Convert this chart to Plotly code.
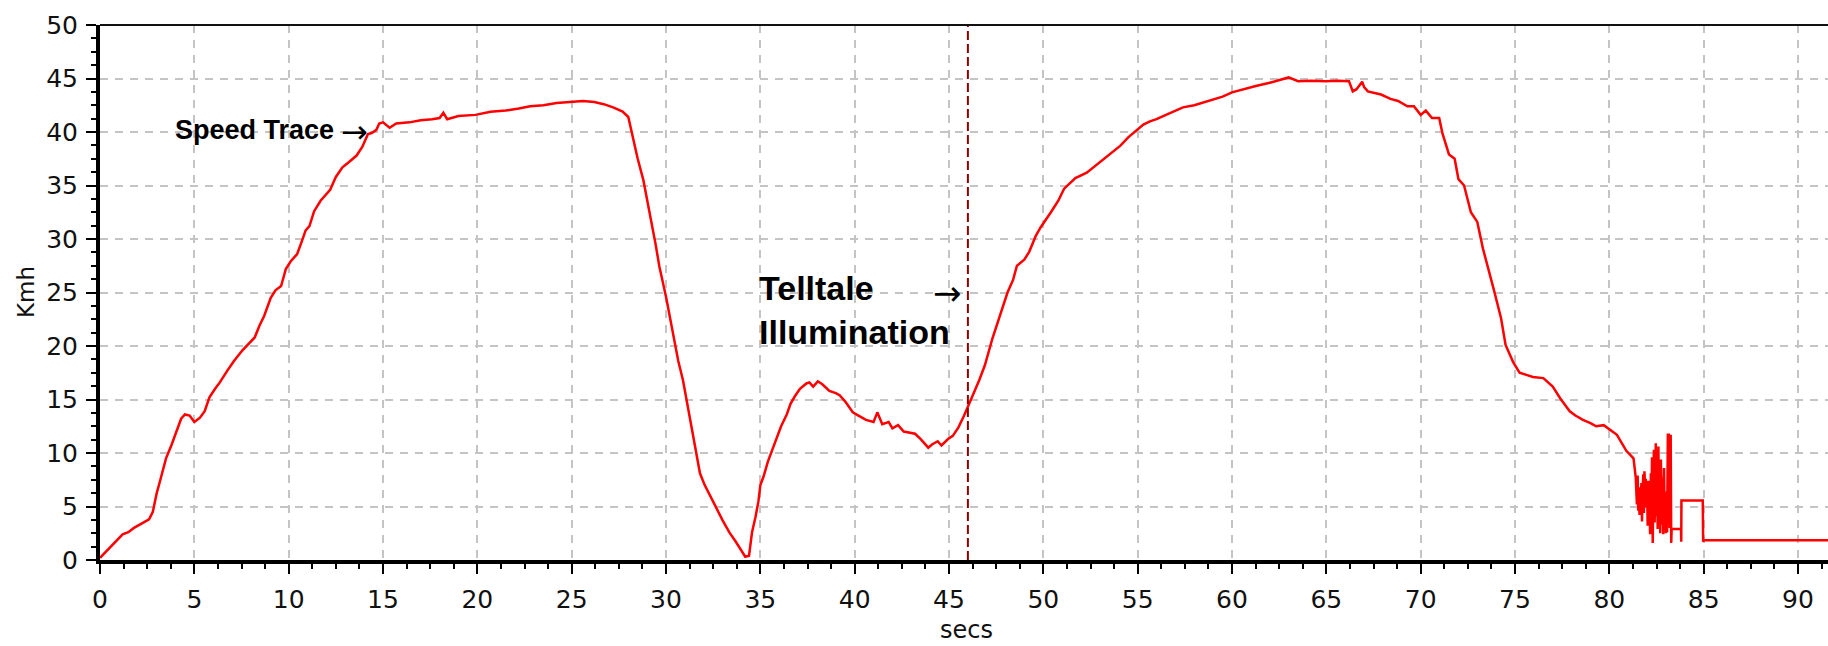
import plotly.graph_objects as go

# Vehicle speed log (seconds, km/h)
secs = [
    0.0, 0.5, 1.0, 1.2, 1.5, 1.8, 2.2, 2.6, 2.8, 3.0, 3.2, 3.5, 3.8, 4.05, 4.3, 4.5, 4.75,
    5.0, 5.3, 5.55, 5.8, 6.1, 6.35, 6.75, 7.1, 7.55, 7.9, 8.2, 8.45, 8.7, 9.05, 9.3, 9.6,
    9.85, 10.1, 10.45, 10.7, 10.9, 11.1, 11.35, 11.7, 12.2, 12.5, 12.85, 13.2, 13.6, 13.9,
    14.2, 14.4, 14.65, 14.8, 15.0, 15.35, 15.7, 16.4, 17.0, 17.6, 18.0, 18.2, 18.4, 19.0,
    19.9, 20.7, 21.5, 22.2, 22.8, 23.5, 24.2, 24.9, 25.6, 26.2, 26.7, 27.2, 27.7, 28.0,
    28.25, 28.5, 28.8, 29.0, 29.2, 29.45, 29.65, 30.0, 30.2, 30.4, 30.65, 30.9, 31.1, 31.3,
    31.55, 31.8, 32.05, 32.3, 32.6, 33.0, 33.35, 33.7, 34.0, 34.2, 34.4, 34.56, 34.74, 34.9,
    35.0, 35.17, 35.4, 35.6, 35.87, 36.1, 36.4, 36.6, 36.83, 37.1, 37.44, 37.6, 37.8, 38.05,
    38.3, 38.66, 39.0, 39.2, 39.5, 39.9, 40.2, 40.6, 41.0, 41.2, 41.46, 41.8, 42.0, 42.3,
    42.6, 43.2, 43.5, 43.9, 44.1, 44.4, 44.6, 44.95, 45.2, 45.5, 45.8, 46.0, 46.26, 46.6,
    46.9, 47.3, 47.75, 48.1, 48.4, 48.6, 49.0, 49.25, 49.6, 49.86, 50.4, 50.8, 51.1, 51.4,
    51.7, 52.3, 52.8, 53.2, 53.6, 54.07, 54.5, 54.95, 55.3, 55.65, 56.0, 56.5, 57.0, 57.4,
    58.0, 58.8, 59.5, 60.0, 60.6, 61.26, 62.0, 62.67, 63.0, 63.5, 64.2, 64.95, 65.6, 66.2,
    66.4, 66.6, 66.9, 67.0, 67.2, 67.9, 68.4, 68.8, 69.3, 69.64, 70.0, 70.27, 70.6, 70.98,
    71.15, 71.5, 71.8, 72.0, 72.3, 72.66, 73.0, 73.3, 73.6, 73.9, 74.26, 74.5, 74.9, 75.24,
    75.6, 75.95, 76.5, 77.0, 77.4, 77.9, 78.2, 78.6, 79.0, 79.3, 79.7, 79.95, 80.4, 80.9,
    81.28, 81.4, 81.46, 81.5, 81.53, 81.56, 81.6, 81.63, 81.66, 81.7, 81.73, 81.76, 81.8,
    81.83, 81.86, 81.9, 81.93, 81.96, 82.0, 82.03, 82.06, 82.1, 82.13, 82.16, 82.2, 82.23,
    82.26, 82.3, 82.33, 82.36, 82.4, 82.43, 82.46, 82.5, 82.53, 82.56, 82.6, 82.63, 82.66,
    82.7, 82.73, 82.76, 82.8, 82.83, 82.86, 82.9, 82.93, 82.96, 83.0, 83.03, 83.06, 83.1,
    83.15, 83.2, 83.25, 83.28, 83.3, 83.8, 83.81, 83.82, 84.95, 84.97, 85.0, 92.0,
]
kmh = [
    0.2, 1.1, 2.0, 2.4, 2.6, 3.0, 3.4, 3.8, 4.5, 6.2, 7.5, 9.5, 10.8, 12.1, 13.2, 13.6, 13.5,
    12.9, 13.3, 13.9, 15.2, 16.0, 16.6, 17.7, 18.6, 19.6, 20.3, 20.8, 21.9, 22.8, 24.5, 25.2, 25.6,
    27.2, 27.9, 28.6, 29.8, 30.8, 31.2, 32.6, 33.6, 34.6, 35.8, 36.7, 37.2, 37.8, 38.6,
    39.8, 39.9, 40.2, 40.8, 40.9, 40.4, 40.8, 40.9, 41.1, 41.2, 41.3, 41.8, 41.2, 41.5,
    41.6, 41.9, 42.0, 42.2, 42.4, 42.5, 42.7, 42.8, 42.9, 42.8, 42.6, 42.3, 41.9, 41.4,
    39.3, 37.5, 35.5, 33.5, 31.8, 29.5, 27.4, 24.6, 22.7, 20.6, 18.6, 16.8, 14.8, 12.8,
    10.3, 8.1, 7.0, 6.2, 5.1, 3.7, 2.6, 1.7, 0.8, 0.3, 0.4, 2.6, 4.0, 5.5,
    7.0, 7.8, 9.2, 10.2, 11.5, 12.5, 13.6, 14.6, 15.3, 16.0, 16.5, 16.6, 16.2, 16.7,
    16.4, 15.8, 15.6, 15.4, 14.8, 13.8, 13.5, 13.1, 12.9, 13.8, 12.7, 12.9, 12.3, 12.6,
    12.0, 11.8, 11.3, 10.5, 10.8, 11.1, 10.7, 11.3, 11.6, 12.4, 13.5, 14.4, 15.4, 16.8,
    18.2, 20.7, 23.2, 25.0, 26.2, 27.5, 28.1, 28.8, 30.3, 31.1, 32.5, 33.6, 34.7, 35.2,
    35.7, 36.2, 36.9, 37.5, 38.1, 38.7, 39.5, 40.2, 40.7, 41.0, 41.2, 41.6, 42.0, 42.3,
    42.5, 42.9, 43.3, 43.7, 44.0, 44.3, 44.6, 44.9, 45.1, 44.75, 44.8, 44.75, 44.8, 44.75,
    43.8, 44.0, 44.7, 44.2, 43.8, 43.5, 43.1, 42.9, 42.4, 42.4, 41.6, 42.0, 41.3, 41.3,
    39.9, 37.9, 37.5, 35.6, 35.0, 32.5, 31.6, 29.1, 27.2, 25.1, 22.6, 20.1, 18.5, 17.5,
    17.3, 17.1, 17.0, 16.2, 15.1, 13.9, 13.5, 13.1, 12.8, 12.5, 12.6, 12.3, 11.7, 10.2,
    9.5, 7.7, 5.2, 7.9, 4.6, 6.1, 4.2, 6.8, 5.6, 7.2, 3.6, 6.5, 8.0,
    4.4, 8.3, 6.4, 7.6, 4.9, 6.9, 3.2, 7.4, 4.3, 5.0, 2.4, 8.1, 3.6,
    9.6, 1.6, 7.2, 10.3, 3.5, 9.1, 10.9, 4.1, 8.8, 2.9, 10.6, 3.7, 7.5,
    2.5, 9.4, 6.8, 3.3, 7.7, 2.4, 8.6, 3.1, 5.8, 2.5, 6.4, 2.6, 11.7,
    11.7, 3.0, 11.7, 1.6, 2.9, 2.9, 1.7, 5.55, 5.55, 1.7, 1.85, 1.85,
]

TELLTALE_T = 46.0  # moment the telltale lamp lit

x_ticks = list(range(0, 95, 5))
y_ticks = list(range(0, 55, 5))

# plot area in page pixels
W, H = 1828, 646
L, R, T, B = 100, 0, 25, 86
PW, PH = W - L - R, H - T - B


def px(xp, yp):
    return (xp - L) / PW, (H - B - yp) / PH


fig = go.Figure()
fig.add_trace(go.Scatter(
    x=secs, y=kmh, mode="lines",
    line=dict(color="#ff0000", width=2.5),
    hoverinfo="skip", showlegend=False,
))

fig.add_shape(type="line", xref="x", yref="y",
              x0=TELLTALE_T, x1=TELLTALE_T, y0=0, y1=50,
              line=dict(color="#8b0000", width=2, dash="9px,4px"))
# top frame line
fig.add_shape(type="line", xref="paper", yref="paper",
              x0=0, x1=1, y0=1, y1=1, line=dict(color="#111", width=2))

grid = dict(showgrid=True, gridcolor="#c4c4c4", gridwidth=2, griddash="8px,7px")
axis_common = dict(
    showline=True, linecolor="black", linewidth=4,
    ticks="outside", ticklen=10, tickwidth=2, tickcolor="black",
    tickfont=dict(family="DejaVu Sans", size=25, color="#111"),
    zeroline=False,
    minor=dict(dtick=1.25, ticks="outside", ticklen=5, tickwidth=2,
               tickcolor="black", showgrid=False),
    **grid,
)

fig.update_xaxes(range=[0, PW / 18.867], tickvals=x_ticks, tick0=0,
                 ticklabelstandoff=4, **axis_common)
fig.update_yaxes(range=[0, 50], tickvals=y_ticks, tick0=0,
                 ticklabelstandoff=3, **axis_common)

ann_font = dict(family="Liberation Sans", color="black")
annotations = []
ax, ay = px(966, 646)
annotations.append(dict(text="secs", x=ax, y=ay, yanchor="bottom",
                        font=dict(family="DejaVu Sans", size=24, color="#111")))
ax, ay = px(26, 292)
annotations.append(dict(text="Kmh", x=ax, y=ay, textangle=-90,
                        font=dict(family="DejaVu Sans", size=23, color="#111")))
ax, ay = px(336, 130)
annotations.append(dict(text="<b>Speed Trace</b>", x=ax, y=ay, xanchor="right",
                        font=dict(size=27, **ann_font)))
ax, ay = px(354, 132)
annotations.append(dict(text="→", x=ax, y=ay, font=dict(family="DejaVu Sans", size=32, color="black")))
ax, ay = px(757, 310)
annotations.append(dict(text="<b>Telltale<br>Illumination</b>", x=ax, y=ay, xanchor="left",
                        align="left", font=dict(size=34, **ann_font)))
ax, ay = px(947, 293)
annotations.append(dict(text="→", x=ax, y=ay, font=dict(family="DejaVu Sans", size=34, color="black")))

for a in annotations:
    a.setdefault("xanchor", "center")
    a.setdefault("yanchor", "middle")
    a.update(xref="paper", yref="paper", showarrow=False)

fig.update_layout(
    width=W, height=H,
    margin=dict(l=L, r=R, t=T, b=B, pad=0),
    paper_bgcolor="white", plot_bgcolor="white",
    annotations=annotations,
)

fig.write_html("out.html")
